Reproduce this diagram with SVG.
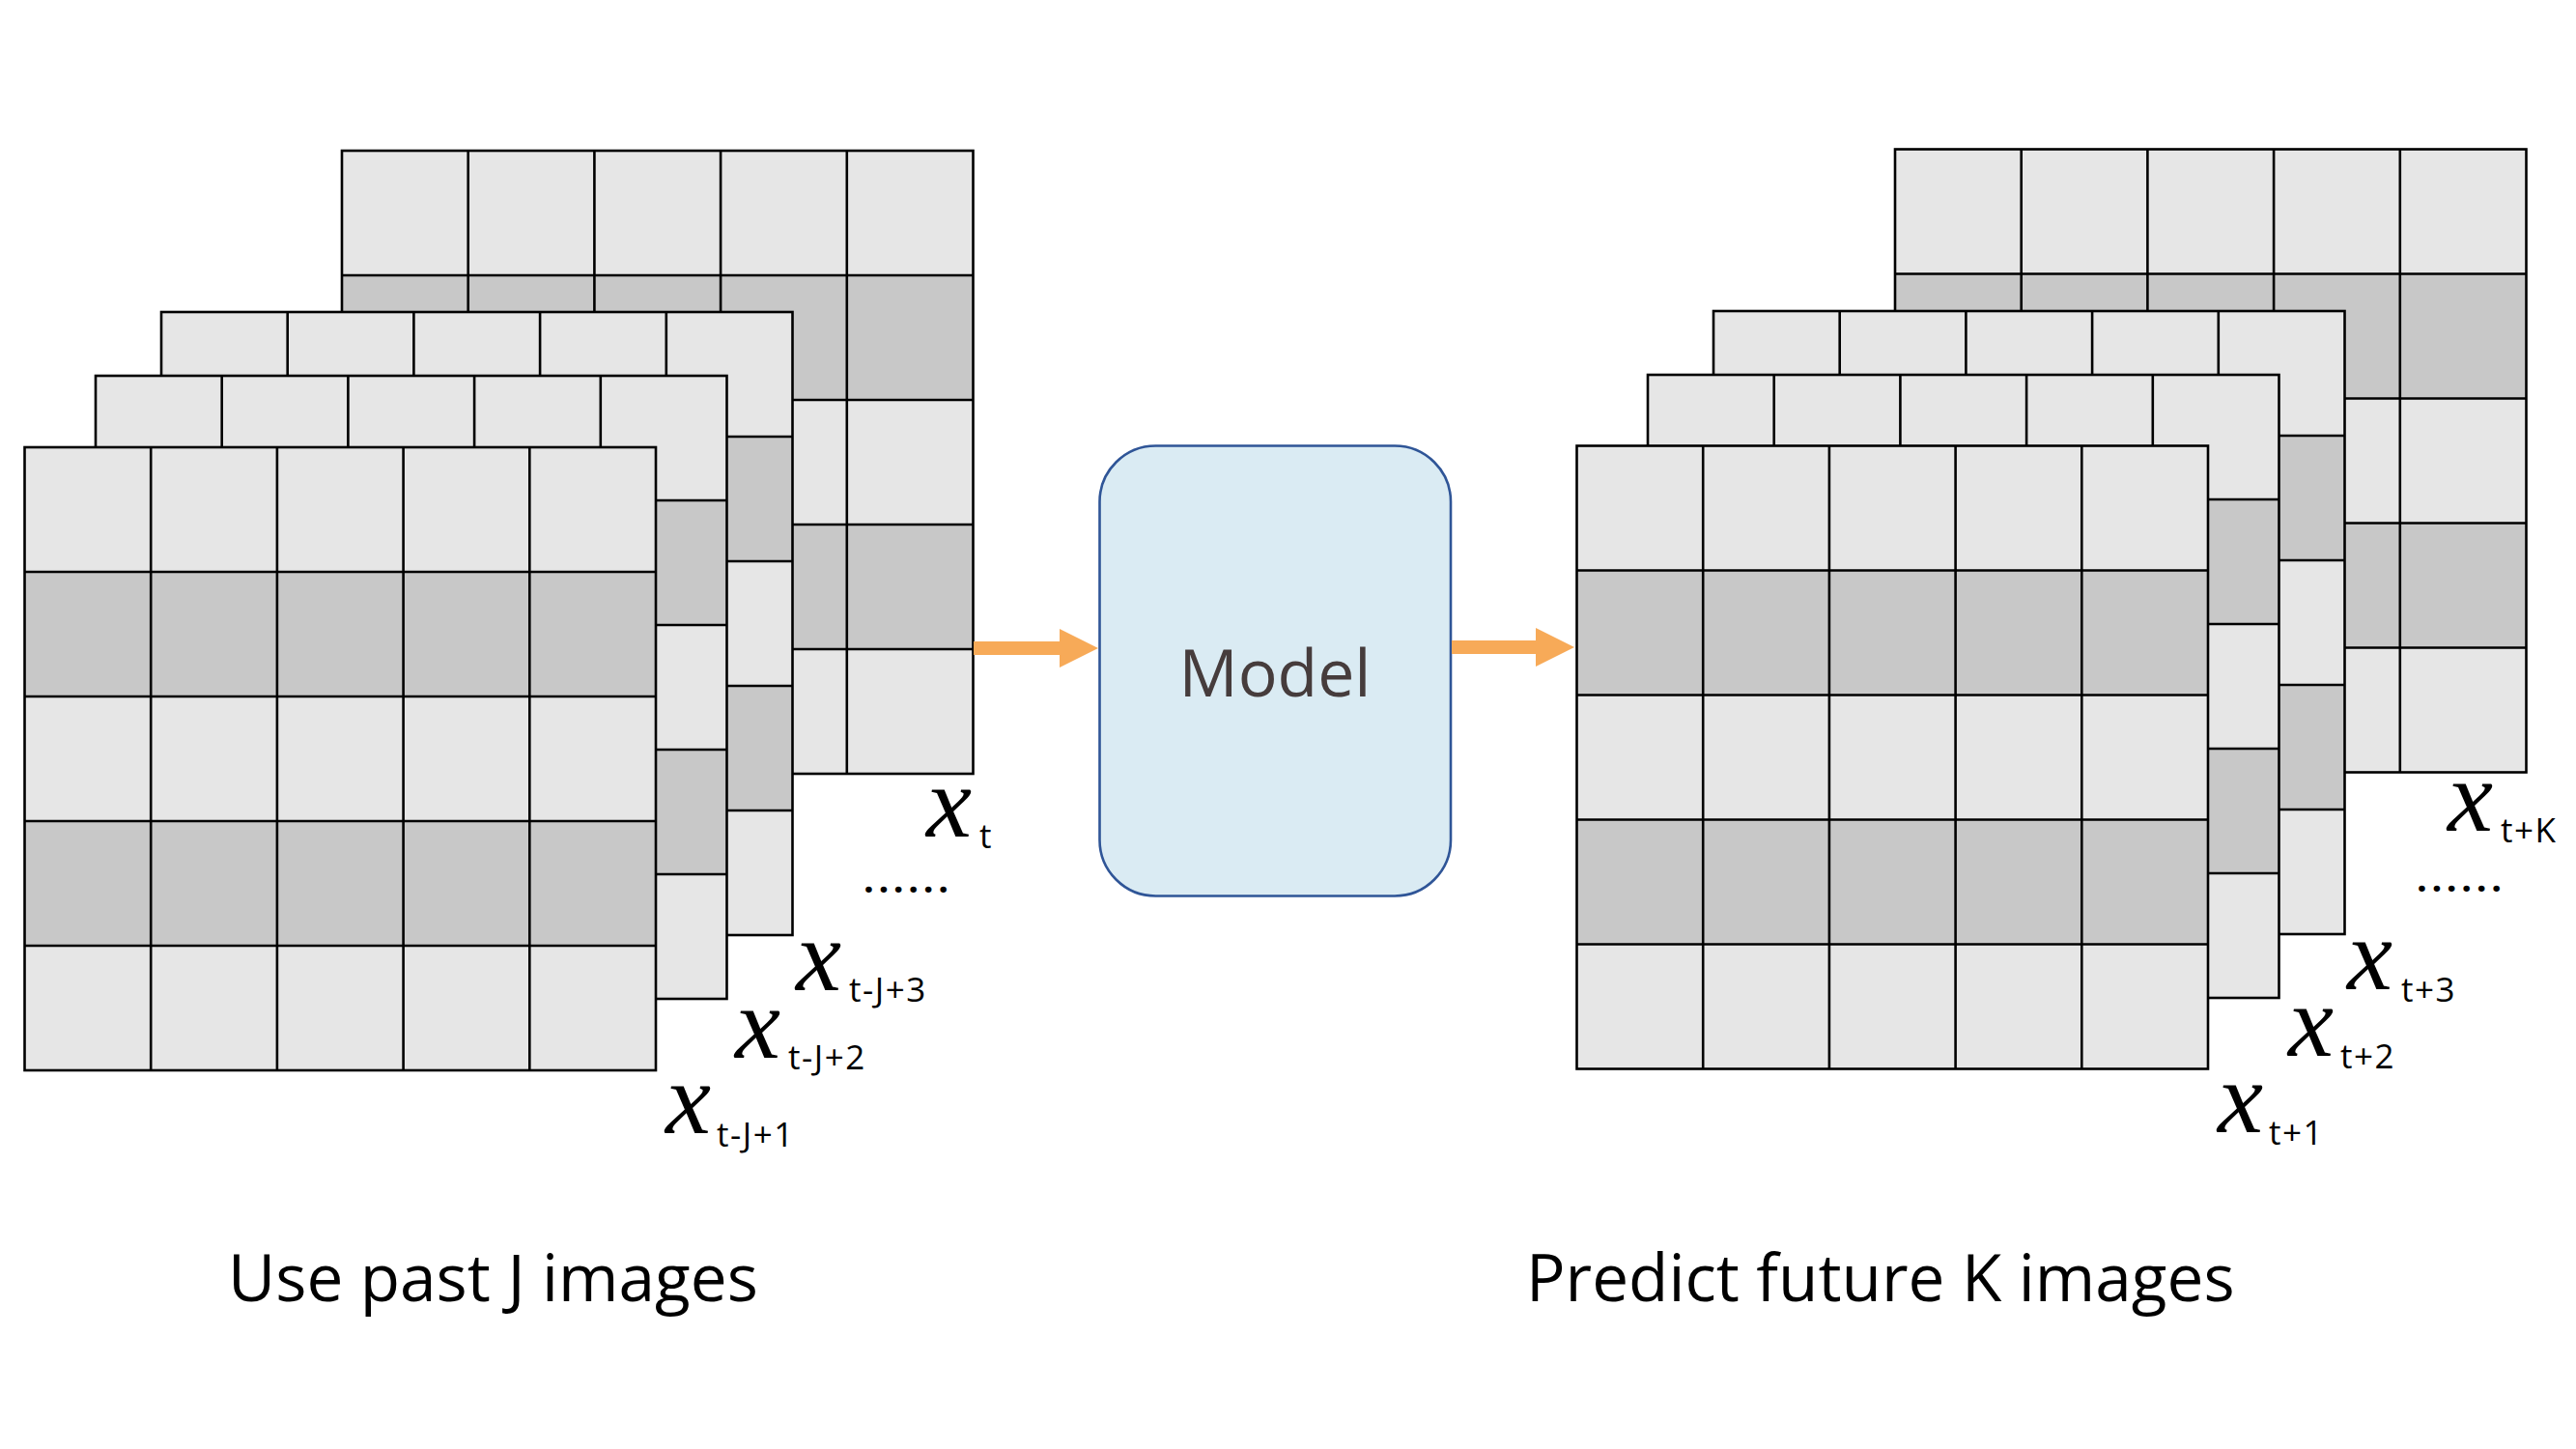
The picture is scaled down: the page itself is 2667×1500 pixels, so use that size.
<svg xmlns="http://www.w3.org/2000/svg" xmlns:xlink="http://www.w3.org/1999/xlink" width="2667" height="1500" viewBox="0 0 2667 1500">
<style>
.light{fill:#E6E6E6}
.dark{fill:#C8C8C8}
.gl{stroke:#000;stroke-width:2.6;fill:none}
.xv{font-family:"Liberation Serif","Times New Roman",serif;font-style:italic;font-size:106px;fill:#000}
.sub{font-family:"Open Sans","Noto Sans",sans-serif;font-size:35px;letter-spacing:1.5px;fill:#000}
.dots{font-family:"Open Sans","Noto Sans",sans-serif;font-size:38px;font-weight:700;letter-spacing:4.6px;fill:#000}
.cap{font-family:"Open Sans","Noto Sans",sans-serif;font-size:67.5px;fill:#000}
.model{font-family:"Open Sans","Noto Sans",sans-serif;font-size:68px;fill:#463C3C}
.arrow{stroke:#F7AA58;stroke-width:14;fill:none}
</style>
<defs>
<g id="grid">
<rect class="light" x="0" y="0" width="653.5" height="129"/>
<rect class="dark" x="0" y="129" width="653.5" height="129"/>
<rect class="light" x="0" y="258" width="653.5" height="129"/>
<rect class="dark" x="0" y="387" width="653.5" height="129"/>
<rect class="light" x="0" y="516" width="653.5" height="129"/>
<path class="gl" d="M130.7 0V645M261.4 0V645M392.1 0V645M522.8 0V645M0 129H653.5M0 258H653.5M0 387H653.5M0 516H653.5"/>
<rect class="gl" x="0" y="0" width="653.5" height="645"/>
</g>
<marker id="head" markerUnits="userSpaceOnUse" markerWidth="40" markerHeight="40" refX="0" refY="20" orient="auto">
<path d="M0 0L40 20L0 40Z" fill="#F7AA58"/>
</marker>
</defs>
<rect x="0" y="0" width="2667" height="1500" fill="#FFFFFF"/>

<g id="input-frame-t">
<use xlink:href="#grid" href="#grid" transform="translate(354,156)"/>
<text class="xv" x="959" y="866">x</text><text class="sub" x="1014" y="878">t</text>
</g>
<text class="dots" x="894" y="924">......</text>
<g id="input-frame-t-J-3">
<use xlink:href="#grid" href="#grid" transform="translate(167,323)"/>
<text class="xv" x="824" y="1025">x</text><text class="sub" x="879" y="1037">t-J+3</text>
</g>
<g id="input-frame-t-J-2">
<use xlink:href="#grid" href="#grid" transform="translate(99,389)"/>
<text class="xv" x="761" y="1095">x</text><text class="sub" x="816" y="1107">t-J+2</text>
</g>
<g id="input-frame-t-J-1">
<use xlink:href="#grid" href="#grid" transform="translate(25.5,463)"/>
<text class="xv" x="689" y="1173">x</text><text class="sub" x="742" y="1187">t-J+1</text>
</g>

<g id="model">
<rect x="1138.5" y="461.5" width="363.5" height="466" rx="58" ry="58" fill="#DAEBF3" stroke="#2F5597" stroke-width="2.6"/>
<text class="model" x="1320" y="721" text-anchor="middle">Model</text>
</g>

<g id="output-frame-t-K">
<use xlink:href="#grid" href="#grid" transform="translate(1962,154.5)"/>
<text class="xv" x="2534" y="860">x</text><text class="sub" x="2589" y="872">t+K</text>
</g>
<text class="dots" x="2502" y="923">......</text>
<g id="output-frame-t-3">
<use xlink:href="#grid" href="#grid" transform="translate(1774,322)"/>
<text class="xv" x="2430" y="1024">x</text><text class="sub" x="2486" y="1037">t+3</text>
</g>
<g id="output-frame-t-2">
<use xlink:href="#grid" href="#grid" transform="translate(1706,388)"/>
<text class="xv" x="2369" y="1093">x</text><text class="sub" x="2423" y="1106">t+2</text>
</g>
<g id="output-frame-t-1">
<use xlink:href="#grid" href="#grid" transform="translate(1632.5,461.5)"/>
<text class="xv" x="2296" y="1172">x</text><text class="sub" x="2349" y="1185">t+1</text>
</g>

<g id="connectors">
<path class="arrow" d="M1008 671H1097" marker-end="url(#head)"/>
<path class="arrow" d="M1503 670H1590" marker-end="url(#head)"/>
</g>

<g id="captions">
<text class="cap" x="236" y="1347">Use past J images</text>
<text class="cap" x="1580" y="1347">Predict future K images</text>
</g>
</svg>
